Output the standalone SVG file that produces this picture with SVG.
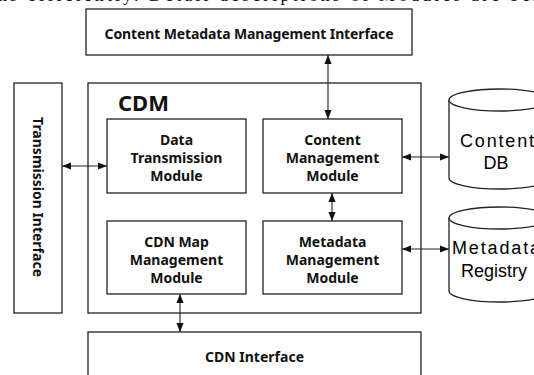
<svg xmlns="http://www.w3.org/2000/svg" width="534" height="375" viewBox="0 0 534 375">
<defs>
<style>
.box{fill:#fff;stroke:#222;stroke-width:1.3}
.lbl{font-family:"Noto Sans","Liberation Sans",sans-serif;font-weight:bold;font-size:14px;fill:#111;text-anchor:middle}
.db{font-family:"Liberation Sans",Arial,sans-serif;font-size:18px;fill:#000;text-anchor:middle}
.conn{stroke:#222;stroke-width:1.1;fill:none;marker-start:url(#ah);marker-end:url(#ah)}
</style>
<marker id="ah" viewBox="0 0 10 8" refX="10" refY="4" markerWidth="9" markerHeight="8" markerUnits="userSpaceOnUse" orient="auto-start-reverse">
<path d="M0,0 L10,4 L0,8 z" fill="#111"/>
</marker>
</defs>
<rect width="534" height="375" fill="#fff"/>
<text x="-2" y="1" font-family="Liberation Serif,serif" font-size="18" textLength="540" fill="#111">ns efficiently. Detail descriptions of Modules are bel</text>
<g id="cmmi"><rect class="box" x="86" y="9" width="326" height="46"/><text class="lbl" x="249" y="39" font-size="15" textLength="289">Content Metadata Management Interface</text></g>
<g id="ti"><rect class="box" x="14" y="83" width="48" height="230"/><text class="lbl" transform="translate(33,197) rotate(90)" font-size="15" textLength="160">Transmission Interface</text></g>
<g id="cdm"><rect class="box" x="88" y="83" width="333" height="230"/><text x="118" y="111" font-family="Noto Sans,Liberation Sans,sans-serif" font-weight="bold" font-size="22" fill="#111">CDM</text></g>
<g id="dtm"><rect class="box" x="107" y="119" width="139" height="74"/><text class="lbl" x="176.5" y="145">Data</text><text class="lbl" x="176.5" y="163">Transmission</text><text class="lbl" x="176.5" y="181">Module</text></g>
<g id="cmm"><rect class="box" x="263" y="119" width="139" height="74"/><text class="lbl" x="332.5" y="145">Content</text><text class="lbl" x="332.5" y="163">Management</text><text class="lbl" x="332.5" y="181">Module</text></g>
<g id="cdnmap"><rect class="box" x="107" y="221" width="139" height="73"/><text class="lbl" x="176.5" y="247">CDN Map</text><text class="lbl" x="176.5" y="265">Management</text><text class="lbl" x="176.5" y="283">Module</text></g>
<g id="mmm"><rect class="box" x="263" y="221" width="139" height="73"/><text class="lbl" x="332.5" y="247">Metadata</text><text class="lbl" x="332.5" y="265">Management</text><text class="lbl" x="332.5" y="283">Module</text></g>
<g id="cdni"><rect class="box" x="88" y="332" width="333" height="60"/><text class="lbl" x="254.5" y="362" font-size="15" textLength="99">CDN Interface</text></g>
<g id="contentdb"><path class="box" d="M449,100 A51,11 0 0 1 551,100 L551,178 A51,11 0 0 1 449,178 Z"/><path class="box" d="M449,100 A51,11 0 0 0 551,100"/><text class="db" x="497" y="147" textLength="74">Content</text><text class="db" x="496" y="169">DB</text></g>
<g id="registry"><path class="box" d="M449,218 A51,11 0 0 1 551,218 L551,291 A51,11 0 0 1 449,291 Z"/><path class="box" d="M449,218 A51,11 0 0 0 551,218"/><text class="db" x="496" y="254" textLength="88">Metadata</text><text class="db" x="494" y="277">Registry</text></g>
<g id="connectors">
<line class="conn" x1="328" y1="55" x2="328" y2="119"/>
<line class="conn" x1="62" y1="166" x2="107" y2="166"/>
<line class="conn" x1="402" y1="157" x2="449" y2="157"/>
<line class="conn" x1="332" y1="193" x2="332" y2="221"/>
<line class="conn" x1="402" y1="249" x2="449" y2="249"/>
<line class="conn" x1="180" y1="294" x2="180" y2="332"/>
</g>
</svg>
